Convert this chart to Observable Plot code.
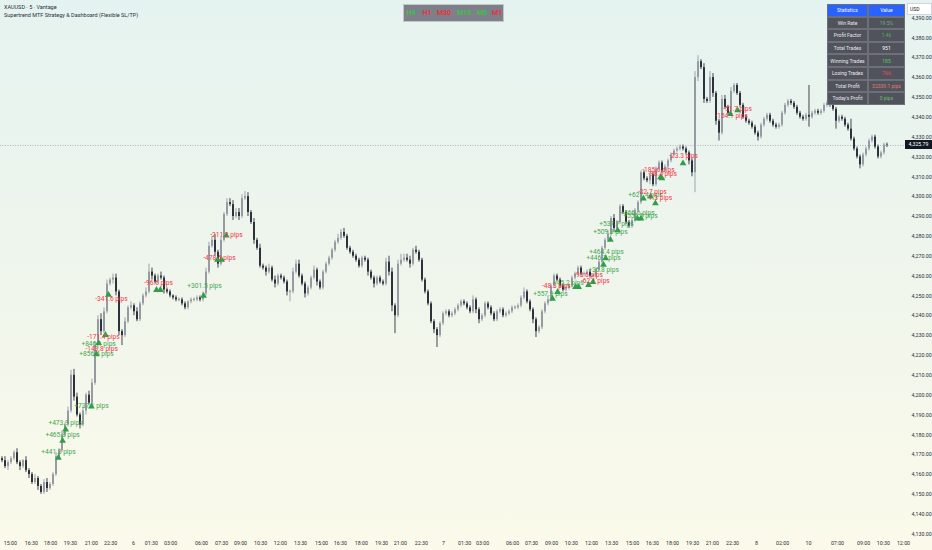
<!DOCTYPE html>
<html><head><meta charset="utf-8">
<script src="https://cdn.jsdelivr.net/npm/d3@7"></script>
<script src="https://cdn.jsdelivr.net/npm/@observablehq/plot@0.6"></script>
<style>
body{margin:0;background:#fff;}
#wrap{position:relative;width:932px;height:550px;overflow:hidden;background:linear-gradient(180deg,#e5f3f0 0%,#eef5ec 45%,#fbfaea 100%);font-family:Roboto,"Liberation Sans",sans-serif;}
#chart{position:absolute;left:0;top:0;}
#title{position:absolute;left:4px;top:3px;color:#2a2e39;font-size:5.5px;line-height:8px;white-space:nowrap;}
#badge{position:absolute;left:403px;top:4px;width:99px;height:16px;background:#7d8088;border:1px solid #c3c5ca;}
#badge span{position:absolute;top:4px;font-size:7px;font-weight:bold;transform:translateX(-50%);line-height:8px;}
#usd{position:absolute;left:907px;top:3px;width:21px;height:10px;background:#fff;border:1px solid #d1d4dc;font-size:5px;line-height:10px;padding-left:2px;color:#131722;}
#price{position:absolute;left:905px;top:140px;width:27px;height:9px;background:#131722;color:#fff;font-size:5.2px;line-height:9px;text-align:center;}
#tbl{position:absolute;left:827px;top:4px;display:grid;grid-template-columns:41px 37px;grid-auto-rows:12.6px;}
#tbl div{background:#50535c;border:0.5px solid #6d7078;box-sizing:border-box;color:#e8e8ea;font-size:5px;display:flex;align-items:center;justify-content:center;white-space:nowrap;}
#tbl div.h{background:#2962ff;color:#fff;}
</style></head>
<body><div id="wrap"><div id="chart"></div>
<div id="title"></div><div id="badge"></div><div id="usd">USD</div><div id="price"></div><div id="tbl"></div></div>
<script>
// ---- OHLC (5-minute XAUUSD) ----
const firstOpen = 4168;
const closes = [
4167,4164,4166,4168,4171,4166,4164,4167,4162,4160,
4156,4158,4154,4151,4156,4153,4155,4160,4169,4172,
4180,4185,4192,4210,4199,4190,4185,4192,4200,4196,
4206,4225,4238,4232,4242,4256,4258,4259,4252,4232,
4230,4237,4244,4245,4242,4238,4246,4250,4252,4262,
4260,4257,4260,4259,4253,4252,4250,4249,4248,4248,
4246,4244,4247,4248,4248,4249,4248,4251,4262,4275,
4278,4272,4266,4278,4291,4297,4296,4290,4292,4290,
4299,4300,4292,4287,4278,4274,4265,4264,4262,4264,
4258,4256,4260,4259,4257,4252,4252,4262,4266,4260,
4256,4251,4254,4259,4263,4257,4254,4262,4266,4269,
4273,4277,4279,4282,4280,4274,4272,4270,4268,4265,
4269,4268,4262,4259,4256,4259,4257,4256,4267,4262,
4245,4240,4266,4268,4269,4268,4266,4273,4272,4268,
4258,4252,4246,4237,4233,4230,4236,4241,4242,4240,
4241,4243,4245,4247,4246,4244,4242,4248,4243,4238,
4240,4246,4244,4241,4238,4242,4243,4240,4241,4242,
4244,4244,4245,4249,4252,4247,4243,4238,4232,4234,
4242,4246,4248,4255,4260,4258,4255,4253,4254,4255,
4259,4261,4264,4261,4261,4262,4260,4260,4263,4267,
4274,4278,4281,4289,4284,4287,4295,4292,4287,4285,
4288,4293,4297,4312,4309,4308,4311,4306,4314,4317,
4313,4315,4318,4321,4323,4324,4325,4324,4322,4318,
4312,4360,4368,4365,4349,4348,4360,4352,4338,4332,
4349,4345,4342,4353,4356,4352,4346,4340,4338,4337,
4335,4332,4330,4336,4339,4341,4338,4336,4335,4336,
4342,4346,4348,4347,4345,4342,4340,4339,4341,4340,
4342,4343,4342,4343,4346,4347,4346,4344,4338,4340,
4339,4336,4334,4329,4324,4320,4316,4321,4324,4328,
4330,4325,4320,4322,4326,4325.79];
const upperWicks = [
1,2,1,1,1,2,1,0.5,2,1, 1,2,1,1,1.5,2,1,1,2,1, 2,1,2,2.5,3,2,1,2,1,2, 2,2,2,3,2,2,1,2,2,1,
1,2,1,2,1,2,1,1,2,4, 2,1,1,2,1,1,1,0.5,1,1, 1,1,0.5,1,1,1,1,1,2,2, 2,3,1,2,1,2,2,2,2,2,
2,2.6,2,1,2,1,2,1,1,2, 1,2,1,1,1,1,1,2,2,2, 1,1,1,1,2,1,1,1,1,1, 1,1,2,1.5,2,1,1,1,1,1,
1,1,1,1,1,1,1,1,2,3, 2,1,2,3,2,2,2,1,2,1, 1,1,1,1,1,1,1,1,1,1, 1,1,1,1,1,1,1,2,1,1,
1,1,1,1,1,1,1,1,1,1, 1,1,1,1,2,1,1,1,1,1, 1,1,2,1,1,1,1,1,1,1, 1,1,1,1,1,1,1,1,1,1,
1,1,2,1,2,1,1,1,1,1, 1,1,1,1,1,1,1,1,1,1, 1,1,1,1,1,1,1,1,1,1, 1,3,3,1,2,1,3,2,1,1,
2,2,1,2,1,1,1,1,1,1, 1,1,1,1,1,1,1,1,1,1, 1,1,1,1,1,1,1,1,1,15, 1,1,1,1,1,1,1,1,1,1,
1,1,1,5,1,1,1,1,1,1, 1,1,1,1,1,1];
const lowerWicks = [
1,1,2,1,1,1,2,1,1,2, 1,1,2,1,1,2,1,1,1,1, 1,1,1,1,2,1,2,1,2,1, 1,1,2,2,1,1,1,2,2,2,
5,1,1,1,2,1,1,1,1,1, 2,1,1,1,2,1,1,1,1,1, 1,1,1,1,1,1,1,1,1,1, 1,2,2,1,1,1,1,2,1,2,
1,1,2,1,2,1,1,1,2,1, 1,2,1,1,1,2,5,1,1,1, 1,2,1,1,1,2,1,1,1,1, 1,1,1,1,1,1,1,1,1,1,
1,1,2,1,2,1,1,1,1,2, 3,9,1,1,1,1,2,1,1,1, 1,1,1,1,2,6,1,1,1,1, 1,1,1,1,1,1,1,1,2,2,
1,1,1,1,1,1,1,1,1,1, 1,1,1,1,1,1,1,2,3,1, 1,1,1,1,1,1,1,1,1,1, 1,1,1,1,1,1,1,1,1,1,
1,1,1,1,2,1,1,1,1,1, 1,1,1,1,1,1,2,1,1,1, 1,1,1,1,1,1,1,1,1,2, 2,10,2,1,2,1,1,2,2,4,
1,1,1,1,1,1,1,1,1,1, 1,1,2,1,1,1,1,1,1,1, 1,1,1,1,1,1,1,1,1,5, 1,1,1,1,1,1,1,1,4,1,
1,1,1,1,1,1,2,1,1,1, 1,1,1,1,1,1];

// ---- entry triangles (bar position, price) ----
const entryBars = [18.8,20.2,21.2,29.8,31.5,32.2,34.5,35.5,51.5,52.8,67.2,71.8,73.2,74.8,
  183.5,185.2,191.2,192.2,195.5,197,200.5,201.2,202.8,205.2,211.8,213,213.8,216.2,217.8,219.5,220,227,242.8,245.2];
const entryPrices = [4168.5,4177,4182.7,4194.3,4220.6,4226.2,4230.3,4250.5,4253,4253,4250,4268.2,4268.2,4280.4,
  4248.6,4252,4254.5,4254.5,4255.5,4257,4265.7,4269,4278.3,4283,4289,4289,4299,4300,4296.6,4309.7,4309.2,4316.8,4341.6,4343.5];

// ---- trade result labels ----
const labelBars = [18.8,20.2,21.2,29.8,31.5,32.2,33.2,33.8,36.5,52.2,67.5,72.5,74.8,
  182.8,184.8,188.8,195.5,197.8,200.5,200.5,201.5,202.8,204.8,211.8,212.8,214.5,216.8,219.2,218.8,220.2,227.2,243.2,245.2];
const labelPrices = [4171.5,4180.1,4186.2,4194.8,4220.6,4225.7,4223.2,4229.2,4248.5,4256.6,4255.1,4269.2,4280.9,
  4251,4255.1,4256.6,4260.6,4257.6,4263.2,4269.2,4272.3,4282.4,4286.5,4292,4290.5,4301.1,4302.2,4299.6,4313.3,4311.3,4320.4,4340.6,4344.2];
const labelTexts = ["+441.3 pips","+465.8 pips","+473.9 pips","+737.1 pips","+856.4 pips","+846.1 pips","-143.8 pips","-171.4 pips","-341.6 pips","-96.6 pips","+301.5 pips","-478.5 pips","-211.2 pips",
  "+557.9 pips","-48.3 pips","+45.2 pips","-93.6 pips","-62.1 pips","+36.8 pips","+446.7 pips","+464.4 pips","+509.3 pips","+537.7 pips","+466.6 pips","+556.5 pips","+627.4 pips","-22.7 pips","-7.3 pips","-185.6 pips","-98.4 pips","-23.3 pips","-154.1 pips","-51.7 pips"];

// ---- axes ----
const priceTicks = [4130,4140,4150,4160,4170,4180,4190,4200,4210,4220,4230,4240,4250,4260,4270,4280,4290,4300,4310,4320,4330,4340,4350,4360,4370,4380,4390];
const timeLabels = ["15:00","16:30","18:00","19:30","21:00","22:30","6","01:30","03:00","06:00","07:30","09:00","10:30","12:00","13:30","15:00","16:30","18:00","19:30","21:00","22:30","7","01:30","03:00","06:00","07:30","09:00","10:30","12:00","13:30","15:00","16:30","18:00","19:30","21:00","22:30","8","02:00","10","07:00","09:00","10:30","12:00"];
const timePos = [2.8,9.8,16.2,22.8,29.8,36.2,43.8,49.8,56.2,66.5,73.2,79.5,86.2,92.8,99.5,106.5,112.8,119.8,126.5,132.8,139.8,147.2,154.2,160.2,170.2,176.5,183.2,189.8,196.5,203.2,210.2,216.8,223.5,230.2,236.8,243.5,251.5,260.2,268.8,278.5,287.2,293.8,300.5];

// ---- dashboard texts ----
const titleLines = ["XAUUSD · 5 · Vantage","Supertrend MTF Strategy & Dashboard (Flexible SL/TP)"];
const tfNames = ["H4","H1","M30","M15","M5","M1"];
const tfBull = [true,false,false,true,true,false];
const statNames = ["Win Rate","Profit Factor","Total Trades","Winning Trades","Losing Trades","Total Profit","Today's Profit"];
const statValues = ["19.5%","1.46","951","185","766","32339.1 pips","0 pips"];
const lastPrice = 4325.79;

// ---- build ----
const UP = "#969aa3", DOWN = "#2e313b";
const bars = closes.map((c, i) => {
  const o = i === 0 ? firstOpen : closes[i - 1];
  return {i, o, c, h: Math.max(o, c) + upperWicks[i], l: Math.min(o, c) - lowerWicks[i], col: c >= o ? UP : DOWN};
});
const bodies = bars.map(b => ({...b, b1: b.o === b.c ? b.o - 0.3 : b.o, b2: b.o === b.c ? b.c + 0.3 : b.c}));
const entries = entryBars.map((x, k) => ({x, y: entryPrices[k]}));
const labels = labelBars.map((x, k) => ({x, y: labelPrices[k], t: labelTexts[k], col: labelTexts[k][0] === "+" ? "#3fa64c" : "#f23645"}));
const tmap = new Map(timePos.map((p, k) => [p, timeLabels[k]]));

const chart = Plot.plot({
  width: 932, height: 550,
  marginLeft: 0, marginRight: 27, marginTop: 0, marginBottom: 13,
  style: {background: "transparent", fontFamily: "Roboto, 'Liberation Sans', sans-serif"},
  x: {domain: [-0.5, 301.17]},
  y: {domain: [4128.29, 4398.82]},
  marks: [
    Plot.ruleY([lastPrice], {stroke: "#9a9ca3", strokeWidth: 0.7, strokeDasharray: "1,1.5"}),
    Plot.ruleX(bars, {x: "i", y1: "l", y2: "h", stroke: "col", strokeWidth: 0.9}),
    Plot.ruleX(bodies, {x: "i", y1: "b1", y2: "b2", stroke: "col", strokeWidth: 2}),
    Plot.dot(entries, {x: "x", y: "y", symbol: "triangle", r: 2.5, fill: "#2f9e49", stroke: "none"}),
    Plot.text(labels, {x: "x", y: "y", text: "t", fill: "col", fontSize: 6.6}),
    Plot.axisY(priceTicks, {anchor: "right", tickSize: 0, tickPadding: 6, tickFormat: d3.format(",.2f"), fontSize: 5.3, fill: "#2a2e39", label: null}),
    Plot.axisX(timePos, {anchor: "bottom", tickSize: 0, tickPadding: 4, tickFormat: d => tmap.get(d), fontSize: 5.3, fill: "#2a2e39", label: null})
  ]
});
document.getElementById("chart").appendChild(chart);

document.getElementById("title").innerHTML = titleLines.map(s => `<div>${s.replace(/&/g,"&amp;")}</div>`).join("");
const tfX = [7, 23, 40, 60, 78, 93];
document.getElementById("badge").innerHTML = tfNames.map((n, k) =>
  `<span style="left:${tfX[k]}px;color:${tfBull[k] ? "#3cc04a" : "#e8323f"}">${n}</span>`).join("");
document.getElementById("price").textContent = d3.format(",.2f")(lastPrice);
const valColors = ["#6fae6f","#4caf50","#ffffff","#4cd05a","#f2474f","#e07a78","#6fb872"];
let html = `<div class="h">Statistics</div><div class="h">Value</div>`;
statNames.forEach((n, k) => { html += `<div>${n}</div><div style="color:${valColors[k]}">${statValues[k]}</div>`; });
document.getElementById("tbl").innerHTML = html;
</script>
</body></html>
